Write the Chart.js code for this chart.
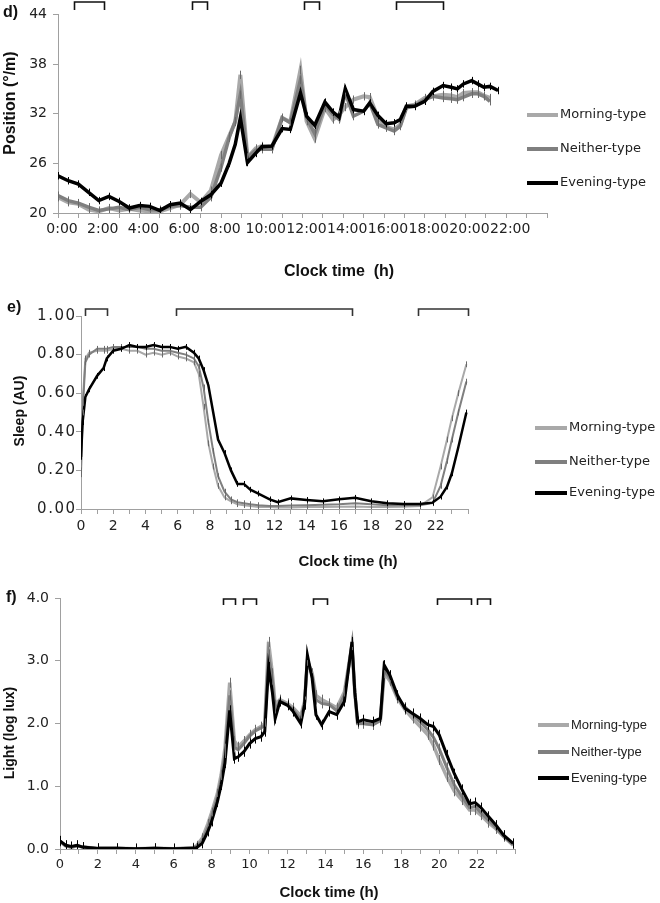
<!DOCTYPE html>
<html>
<head>
<meta charset="utf-8">
<script src="https://cdn.jsdelivr.net/npm/chart.js@4/dist/chart.umd.min.js"></script>
<style>
  body { margin: 0; background: #fff; width: 660px; height: 903px; overflow: hidden; position: relative; }
  .panel { position: absolute; left: 0; width: 660px; }
</style>
</head>
<body>
<div class="panel" style="top:0;height:290px"><canvas id="chartD"></canvas></div>
<div class="panel" style="top:290px;height:290px"><canvas id="chartE"></canvas></div>
<div class="panel" style="top:580px;height:323px"><canvas id="chartF"></canvas></div>
<script>
const seriesNames = ['Morning-type', 'Neither-type', 'Evening-type'];
const seriesColors = ['#a9a9a9', '#7f7f7f', '#000000'];

// d) position
const hoursD = [0, 0.5, 1, 1.5, 2, 2.5, 3, 3.5, 4, 4.5,
  5, 5.5, 6, 6.5, 7, 7.5, 8, 8.4, 8.7, 8.95,
  9.3, 9.7, 10, 10.5, 11, 11.4, 11.9, 12.2, 12.6, 13.1,
  13.5, 13.8, 14.1, 14.5, 15, 15.3, 15.7, 16.1, 16.5, 16.8,
  17.1, 17.5, 18, 18.4, 18.9, 19.3, 19.6, 19.9, 20.3, 20.6,
  20.9, 21.2, 21.6];
const morningD = [21.9, 21.3, 21.1, 20.4, 20.2, 20.6, 20.3, 20.5, 20.3, 20.2,
  20.2, 20.6, 21.0, 22.3, 21.3, 22.7, 27.0, 29.3, 31.0, 36.7,
  26.7, 27.8, 28.1, 27.9, 31.5, 31.0, 37.3, 31.1, 29.0, 32.7,
  31.3, 31.9, 32.8, 33.7, 34.1, 34.0, 31.5, 30.4, 30.1, 30.7,
  32.9, 33.1, 33.9, 34.1, 34.3, 34.2, 34.0, 34.5, 34.6, 34.6,
  34.2, 33.9, null];
const neitherD = [22.1, 21.5, 21.2, 20.7, 20.3, 20.5, 20.7, 20.4, 20.7, 20.4,
  20.4, 20.8, 20.9, 20.7, 20.7, 21.9, 25.5, 29.1, 31.1, 34.3,
  26.7, 27.6, 27.7, 27.7, 31.5, 30.9, 36.1, 31.5, 29.6, 33.1,
  31.9, 31.3, 34.5, 31.7, 32.3, 33.3, 30.7, 30.3, 29.9, 30.5,
  32.7, 32.9, 33.7, 34.1, 33.9, 33.8, 33.7, 34.0, 34.4, 34.4,
  34.1, 33.5, null];
const eveningD = [24.5, 23.9, 23.5, 22.5, 21.5, 22.0, 21.4, 20.6, 20.9, 20.8,
  20.3, 21.0, 21.2, 20.4, 21.4, 22.2, 23.6, 26.0, 28.3, 31.5,
  26.1, 27.2, 28.0, 28.1, 30.2, 30.1, 34.5, 31.7, 30.6, 33.4,
  32.2, 31.6, 35.0, 32.5, 32.3, 33.3, 31.8, 30.8, 30.9, 31.3,
  32.9, 32.9, 33.5, 34.7, 35.4, 35.2, 35.0, 35.6, 36.0, 35.6,
  35.2, 35.3, 34.8];
const semD = [0.5, 0.5, 0.45];
const bracketsD = [[0.78, 2.25], [6.6, 7.32], [12.06, 12.8], [16.6, 18.92]];

// e) sleep
const hoursE = [0, 0.1, 0.27, 0.5, 1, 1.4, 1.6, 2, 2.5, 3,
  3.5, 4, 4.5, 5, 5.5, 6, 6.5, 7, 7.3, 7.6,
  7.9, 8.2, 8.5, 8.9, 9.3, 9.7, 10.1, 10.5, 11, 11.7,
  12.2, 13, 14, 15, 16, 17, 18, 19, 20, 21,
  21.8, 22.3, 22.7, 23, 23.4, 23.9];
const morningE = [0.18, 0.55, 0.78, 0.81, 0.82, 0.82, 0.82, 0.83, 0.83, 0.82,
  0.82, 0.80, 0.81, 0.80, 0.81, 0.79, 0.78, 0.76, 0.70, 0.53,
  0.34, 0.22, 0.12, 0.06, 0.04, 0.025, 0.02, 0.015, 0.01, 0.01,
  0.008, 0.008, 0.01, 0.01, 0.012, 0.013, 0.01, 0.01, 0.012, 0.015,
  0.06, 0.22, 0.36, 0.47, 0.60, 0.75];
const neitherE = [0.20, 0.50, 0.76, 0.80, 0.83, 0.83, 0.83, 0.84, 0.84, 0.84,
  0.84, 0.83, 0.83, 0.82, 0.82, 0.81, 0.80, 0.78, 0.74, 0.63,
  0.45, 0.30, 0.17, 0.09, 0.05, 0.035, 0.03, 0.025, 0.02, 0.015,
  0.015, 0.018, 0.02, 0.022, 0.025, 0.03, 0.025, 0.02, 0.02, 0.02,
  0.03, 0.12, 0.25, 0.36, 0.50, 0.66];
const eveningE = [0.27, 0.45, 0.58, 0.62, 0.69, 0.73, 0.78, 0.82, 0.83, 0.85,
  0.84, 0.84, 0.85, 0.84, 0.84, 0.83, 0.84, 0.81, 0.78, 0.72,
  0.64, 0.50, 0.36, 0.29, 0.20, 0.13, 0.13, 0.10, 0.08, 0.05,
  0.035, 0.055, 0.047, 0.04, 0.05, 0.058, 0.04, 0.03, 0.026, 0.026,
  0.033, 0.064, 0.116, 0.185, 0.32, 0.50];
const semE = [0.015, 0.015, 0.015];
const bracketsE = [[0.23, 1.63], [5.91, 16.79], [20.92, 24]];

// f) light
const hoursF = [0, 0.3, 0.6, 0.9, 1.2, 2, 3, 4, 5, 6, 7,
  7.2, 7.5, 7.8, 8.0, 8.3, 8.5, 8.7, 8.95,
  9.2, 9.4, 9.7, 10, 10.3, 10.6, 10.8,
  11.0, 11.2, 11.35, 11.6,
  12, 12.3, 12.7, 12.9, 13.05, 13.3, 13.5, 13.8,
  14.2, 14.6, 15, 15.4, 15.55, 15.7,
  16, 16.5, 16.9, 17.1, 17.4, 17.8,
  18.2, 18.6, 19, 19.4, 19.7, 20,
  20.4, 20.8, 21.2, 21.6, 21.9, 22.2,
  22.6, 23, 23.4, 23.9];
const morningF = [0.12, 0.05, 0.03, 0.05, 0.03, 0.01, 0.01, 0.005, 0.01, 0.005, 0.02,
  0.05, 0.17, 0.40, 0.58, 0.88, 1.18, 1.60, 2.65,
  1.72, 1.63, 1.72, 1.82, 1.90, 1.95, 2.00,
  3.30, 2.80, 2.30, 2.38,
  2.32, 2.25, 2.12, 2.35, 3.00, 2.80, 2.45, 2.38,
  2.32, 2.25, 2.50, 3.25, 2.50, 2.00,
  2.00, 1.98, 2.05, 2.80, 2.68, 2.40,
  2.22, 2.08, 1.95, 1.82, 1.65, 1.42,
  1.15, 0.92, 0.78, 0.62, 0.62, 0.54,
  0.42, 0.32, 0.20, 0.06];
const neitherF = [0.12, 0.05, 0.03, 0.05, 0.03, 0.01, 0.01, 0.005, 0.01, 0.005, 0.015,
  0.04, 0.13, 0.34, 0.52, 0.82, 1.10, 1.50, 2.45,
  1.62, 1.58, 1.68, 1.80, 1.88, 1.93, 1.97,
  3.10, 2.70, 2.20, 2.36,
  2.30, 2.22, 2.06, 2.32, 3.02, 2.76, 2.38, 2.32,
  2.30, 2.20, 2.45, 3.25, 2.50, 2.00,
  2.00, 1.98, 2.05, 2.85, 2.72, 2.42,
  2.26, 2.15, 2.03, 1.90, 1.78, 1.60,
  1.30, 1.02, 0.84, 0.66, 0.68, 0.58,
  0.46, 0.34, 0.20, 0.07];
const eveningF = [0.13, 0.06, 0.04, 0.06, 0.03, 0.01, 0.01, 0.005, 0.01, 0.005, 0.01,
  0.02, 0.09, 0.28, 0.44, 0.75, 1.02, 1.37, 2.21,
  1.44, 1.47, 1.55, 1.68, 1.76, 1.79, 1.87,
  2.90, 2.50, 2.08, 2.35,
  2.29, 2.19, 2.00, 2.30, 3.09, 2.72, 2.14, 1.98,
  2.19, 2.14, 2.35, 3.30, 2.50, 2.03,
  2.06, 2.03, 2.08, 2.93, 2.77, 2.45,
  2.24, 2.16, 2.08, 1.98, 1.95, 1.82,
  1.50, 1.20, 0.95, 0.72, 0.74, 0.66,
  0.52, 0.38, 0.22, 0.09];
const semF = [0.08, 0.08, 0.08];
const bracketsF = [[8.6, 9.25], [9.63, 10.34], [13.36, 14.1], [19.87, 21.66], [22.01, 22.68]];

// thin SEM whiskers on every point
const whiskers = {
  id: 'whiskers',
  afterDatasetsDraw(chart, args, o) {
    const ctx = chart.ctx;
    const y = chart.scales.y;
    ctx.save();
    ctx.beginPath();
    ctx.rect(chart.chartArea.left, chart.chartArea.top, chart.chartArea.right - chart.chartArea.left, chart.chartArea.bottom - chart.chartArea.top);
    ctx.clip();
    ctx.lineWidth = 1;
    chart.data.datasets.forEach((ds, i) => {
      ctx.strokeStyle = i === 2 ? '#000' : '#6a6a6a';
      chart.getDatasetMeta(i).data.forEach((pt, j) => {
        const v = ds.data[j].y;
        if (v == null) return;
        const x = Math.round(pt.x) + 0.5;
        ctx.beginPath();
        ctx.moveTo(x, y.getPixelForValue(v + o.sem[i]));
        ctx.lineTo(x, y.getPixelForValue(v - o.sem[i]));
        ctx.stroke();
      });
    });
    ctx.restore();
  }
};

// axis titles, legend and significance brackets
const decor = {
  id: 'decor',
  afterDraw(chart, args, o) {
    const ctx = chart.ctx;
    const x = chart.scales.x;
    const y = chart.scales.y;
    ctx.save();
    ctx.fillStyle = '#111';
    ctx.textBaseline = 'middle';
    ctx.font = 'bold 16px "Liberation Sans", Arial, sans-serif';
    ctx.textAlign = 'left';
    ctx.fillText(o.tag, o.tagPos[0], o.tagPos[1]);

    ctx.font = 'bold ' + o.titleSize[0] + 'px "Liberation Sans", Arial, sans-serif';
    ctx.textAlign = 'center';
    ctx.save();
    ctx.translate(o.yTitlePos[0], o.yTitlePos[1]);
    ctx.rotate(-Math.PI / 2);
    ctx.fillText(o.yTitle, 0, 0);
    ctx.restore();
    ctx.font = 'bold ' + o.titleSize[1] + 'px "Liberation Sans", Arial, sans-serif';
    ctx.fillText(o.xTitle, o.xTitlePos[0], o.xTitlePos[1]);

    // wider y tick labels (when the library labels are hidden)
    if (o.yLabels) {
      ctx.save();
      ctx.font = '15px "DejaVu Sans", sans-serif';
      ctx.fillStyle = '#222';
      ctx.textAlign = 'right';
      ctx.letterSpacing = o.yLabels.spacing + 'px';
      y.ticks.forEach((t) => {
        ctx.fillText(o.yLabels.format(t.value), y.right - 6 + o.yLabels.spacing, y.getPixelForValue(t.value));
      });
      ctx.restore();
    }

    // legend
    ctx.font = o.legendFont;
    ctx.textAlign = 'left';
    ctx.fillStyle = '#222';
    seriesNames.forEach((name, i) => {
      const ly = o.legendY[i];
      ctx.strokeStyle = seriesColors[i];
      ctx.lineWidth = 4;
      ctx.beginPath();
      ctx.moveTo(o.legendX[0], ly);
      ctx.lineTo(o.legendX[1], ly);
      ctx.stroke();
      ctx.fillText(name, o.legendX[1] + 2, ly);
    });

    // brackets
    ctx.strokeStyle = o.bracketColor;
    ctx.lineWidth = 1.6;
    o.brackets.forEach(([a, b]) => {
      const xa = Math.round(x.getPixelForValue(a)) + 0.5;
      const xb = Math.round(x.getPixelForValue(b)) + 0.5;
      ctx.beginPath();
      ctx.moveTo(xa, o.bracketY[1]);
      ctx.lineTo(xa, o.bracketY[0]);
      ctx.lineTo(xb, o.bracketY[0]);
      ctx.lineTo(xb, o.bracketY[1]);
      ctx.stroke();
    });
    ctx.restore();
  }
};

function makePanel(id, p) {
  const axisColor = '#a0a0a0';
  const widths = p.lineWidths;
  const datasets = [p.morning, p.neither, p.evening].map((vals, i) => ({
    label: seriesNames[i],
    data: p.hours.map((h, j) => ({ x: h, y: vals[j] })),
    borderColor: seriesColors[i],
    borderWidth: widths[i],
    pointRadius: 0,
    fill: false,
    tension: 0,
    spanGaps: false,
    order: 3 - i,
  }));
  new Chart(document.getElementById(id), {
    type: 'line',
    data: { datasets: datasets },
    plugins: [whiskers, decor],
    options: {
      responsive: true,
      maintainAspectRatio: false,
      animation: false,
      layout: { padding: p.padding },
      plugins: {
        legend: { display: false },
        tooltip: { enabled: false },
        whiskers: { sem: p.sem },
        decor: p.decor,
      },
      scales: {
        x: {
          type: 'linear',
          min: 0,
          max: 24,
          ticks: {
            stepSize: 1,
            autoSkip: false,
            maxRotation: 0,
            padding: p.xTickPad,
            labelOffset: p.xLabelOffset,
            color: '#222',
            font: { family: 'DejaVu Sans', size: p.xTickSize },
            callback: (v) => (v % 2 === 0 && v < 24 ? p.xLabel(v) : ''),
          },
          grid: { drawOnChartArea: false, drawTicks: true, tickLength: 5, color: axisColor },
          border: { color: axisColor, width: 1 },
          afterFit: (s) => { s.height = p.xHeight; },
        },
        y: {
          min: p.yMin,
          max: p.yMax,
          ticks: {
            display: !p.decor.yLabels,
            stepSize: p.yStep,
            padding: p.yTickPad,
            color: '#222',
            font: { family: 'DejaVu Sans', size: 14 },
            callback: (v) => p.yLabel(v),
          },
          grid: { drawOnChartArea: false, drawTicks: true, tickLength: 5, color: axisColor },
          border: { color: axisColor, width: 1 },
          afterFit: (s) => { s.width = p.yWidth; },
        },
      },
    },
  });
}

makePanel('chartD', {
  hours: hoursD, morning: morningD, neither: neitherD, evening: eveningD, sem: semD,
  lineWidths: [4, 3.5, 3.5],
  padding: { top: 14, right: 113, left: 0, bottom: 6 },
  yWidth: 58, xHeight: 71,
  yMin: 20, yMax: 44, yStep: 6, yTickPad: 6, xTickPad: 3, xTickSize: 14, xLabelOffset: 4,
  yLabel: (v) => String(v),
  xLabel: (v) => v + ':00',
  decor: {
    tag: 'd)', tagPos: [3, 13],
    yTitle: 'Position (°/m)', yTitlePos: [11, 103],
    xTitle: 'Clock time  (h)', xTitlePos: [339, 272], titleSize: [16, 16],
    legendX: [527, 558], legendY: [115, 149, 183],
    legendFont: '13px "DejaVu Sans", sans-serif',
    brackets: bracketsD, bracketY: [2, 10], bracketColor: '#111',
  },
});

makePanel('chartE', {
  hours: hoursE, morning: morningE, neither: neitherE, evening: eveningE, sem: semE,
  lineWidths: [2, 2, 2.5],
  padding: { top: 26, right: 192, left: 0, bottom: 8 },
  yWidth: 81, xHeight: 63,
  yMin: 0, yMax: 1, yStep: 0.2, yTickPad: 1, xTickPad: 4, xTickSize: 14, xLabelOffset: 0,
  yLabel: (v) => v.toFixed(2),
  xLabel: (v) => String(v),
  decor: {
    tag: 'e)', tagPos: [7, 18],
    yTitle: 'Sleep (AU)', yTitlePos: [20, 121],
    xTitle: 'Clock time (h)', xTitlePos: [348, 272], titleSize: [14, 15],
    legendX: [535, 567], legendY: [138, 172, 203],
    legendFont: '13px "DejaVu Sans", sans-serif',
    brackets: bracketsE, bracketY: [19, 26], bracketColor: '#333',
    yLabels: { spacing: 1.5, format: (v) => v.toFixed(2) },
  },
});

makePanel('chartF', {
  hours: hoursF, morning: morningF, neither: neitherF, evening: eveningF, sem: semF,
  lineWidths: [3.5, 3, 3],
  padding: { top: 18, right: 145, left: 0, bottom: 4 },
  yWidth: 60, xHeight: 50,
  yMin: 0, yMax: 4, yStep: 1, yTickPad: 6, xTickPad: 3, xTickSize: 13, xLabelOffset: 0,
  yLabel: (v) => v.toFixed(1),
  xLabel: (v) => String(v),
  decor: {
    tag: 'f)', tagPos: [6, 18],
    yTitle: 'Light (log lux)', yTitlePos: [10, 153],
    xTitle: 'Clock time (h)', xTitlePos: [329, 313], titleSize: [14, 15],
    legendX: [538, 569], legendY: [145, 172, 198],
    legendFont: '13px "Liberation Sans", Arial, sans-serif',
    brackets: bracketsF, bracketY: [19, 25], bracketColor: '#111',
  },
});
</script>
</body>
</html>
